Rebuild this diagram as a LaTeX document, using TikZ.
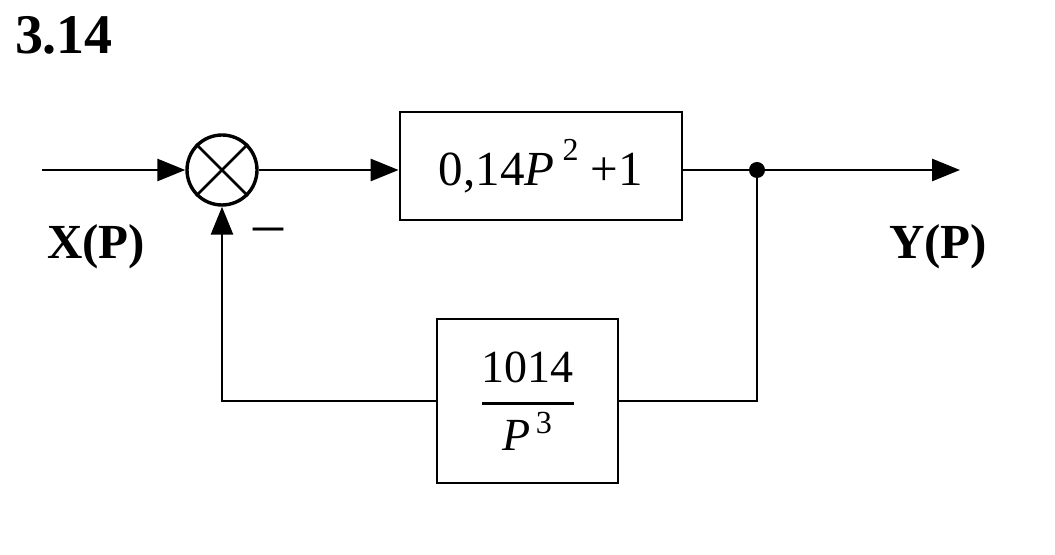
\documentclass[tikz,border=0pt]{standalone}
\usepackage{amsmath}
\usepackage{fontspec}
\setmainfont{Liberation Serif}
\usepackage{tikz}
\usetikzlibrary{positioning,calc,arrows.meta}

\tikzset{
    block/.style={draw, line width=1.4pt, inner sep=0pt},
    flow/.style={line width=1.4pt, -{Triangle[length=14pt,width=11pt]}},
    wire/.style={line width=1.4pt},
}

\begin{document}
\begin{tikzpicture}[x=0.5pt,y=-0.5pt]
    \useasboundingbox (0,0) rectangle (1055,555);
    % title
    \node (title) at (64,35) {%
        {\fontsize{28pt}{30pt}\selectfont
    \textbf{3.14}%
        }%
    };
    % summing junction
    \node[draw, circle, line width=1.7pt, minimum size=35pt, inner sep=0pt] (sum) at (222,170) {};
    \draw[line width=1.4pt] (sum.north west) -- (sum.south east);
    \draw[line width=1.4pt] (sum.north east) -- (sum.south west);
    % blocks
    \node[block, minimum width=141pt, minimum height=54pt] (fwd) at (541,166) {%
        {\fontsize{24.5pt}{28pt}\selectfont
    0,14\textit{P}\,\raisebox{0.5em}{\fontsize{16pt}{18pt}\selectfont 2} +1%
        }%
    };
    \node[block, minimum width=90.5pt, minimum height=82pt] (fb) at (527.5,401) {%
        {\fontsize{23pt}{27pt}\selectfont
    $\genfrac{}{}{1.3pt}{0}{\text{1014}}{\textit{P}^{\,\text{3}}}$%
        }%
    };
    % ends of the main line
    \coordinate (in) at (42,170);
    \coordinate (split) at (757,170);
    \coordinate (out) at (960,170);
    % connectors
    \draw[flow] (in) -- (sum);
    \draw[flow] (sum) -- (sum -| fwd.west);
    \draw[wire] (sum -| fwd.east) -- (split);
    \draw[flow] (split) -- (out);
    \draw[wire] (split) |- (fb.east);
    \draw[flow] (fb.west) -| (sum.south);
    \fill (split) circle (4pt);
    % labels
    \node (minus) at (268,236) {{\fontsize{30pt}{30pt}\selectfont \textendash}};
    \node (xin) at (96,247) {%
        {\fontsize{24.5pt}{28pt}\selectfont
    \textbf{X(P)}%
        }%
    };
    \node (yout) at (938,247) {%
        {\fontsize{24.5pt}{28pt}\selectfont
    \textbf{Y(P)}%
        }%
    };
\end{tikzpicture}
\end{document}
